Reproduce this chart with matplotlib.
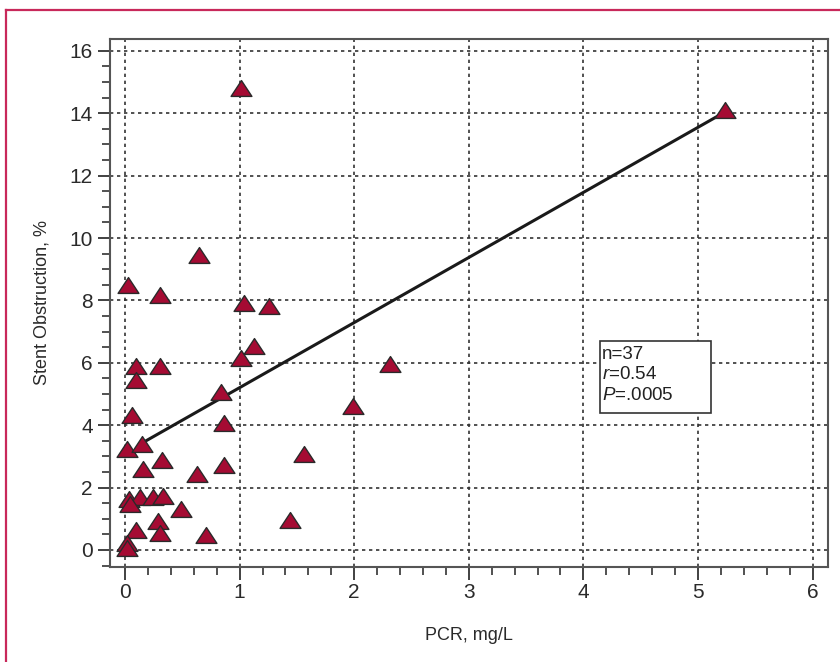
import numpy as np
import matplotlib
matplotlib.use("Agg")
import matplotlib.pyplot as plt
from matplotlib.path import Path
from matplotlib.lines import Line2D
from matplotlib.patches import Rectangle
from matplotlib.ticker import MultipleLocator

plt.rcParams['font.family'] = ['Liberation Sans Narrow', 'Liberation Sans', 'DejaVu Sans']
plt.rcParams['mathtext.fontset'] = 'custom'
plt.rcParams['mathtext.it'] = 'Liberation Sans:italic'
plt.rcParams['mathtext.rm'] = 'Liberation Sans'

# PCR (mg/L) and stent obstruction (%)
pcr = [1.01, 5.24, 0.65, 0.03, 0.305, 1.04, 1.26, 1.13, 1.01, 0.10,
       0.305, 0.10, 0.835, 2.31, 1.99, 0.064, 0.86, 0.014, 0.145, 1.56,
       0.326, 0.16, 0.86, 0.63, 0.038, 0.13, 0.24, 0.335, 0.044, 0.49,
       1.44, 0.29, 0.10, 0.305, 0.71, 0.015, 0.015]
obstruction = [14.8, 14.1, 9.47, 8.5, 8.18, 7.91, 7.83, 6.55, 6.15, 5.9,
               5.9, 5.45, 5.08, 5.95, 4.6, 4.33, 4.08, 3.23, 3.4, 3.08,
               2.87, 2.59, 2.73, 2.43, 1.65, 1.69, 1.71, 1.73, 1.49, 1.3,
               0.97, 0.93, 0.64, 0.56, 0.48, 0.21, 0.06]

# regression line end points as drawn
fit_x = [0.145, 5.24]
fit_y = [3.42, 14.05]

stats_lines = ['n=37', r'$\mathit{r}$=0.54', r'$\mathit{P}$=.0005']

# flattened triangle marker
tri = Path([(-1, -0.76), (1, -0.76), (0, 0.76), (-1, -0.76)],
           [Path.MOVETO, Path.LINETO, Path.LINETO, Path.CLOSEPOLY])

fig = plt.figure(figsize=(8.4, 6.62), dpi=100)
ax = fig.add_axes([0.1304, 0.144, 0.8556, 0.7975])

ax.plot(fit_x, fit_y, color='#1a1a1a', lw=2.2, zorder=3)
ax.scatter(pcr, obstruction, marker=tri, s=15**2, facecolor='#A50B33',
           edgecolor='#2a2a2a', linewidth=1.0, zorder=4)

ax.set_xlim(-0.135, 6.137)
ax.set_ylim(-0.535, 16.39)
ax.set_xticks(range(0, 7))
ax.set_yticks(range(0, 17, 2))
ax.xaxis.set_minor_locator(MultipleLocator(0.2))
ax.yaxis.set_minor_locator(MultipleLocator(0.5))

ax.grid(True, which='major', color='#333333', linestyle=(0, (2, 2.2)), lw=1.2)
ax.set_axisbelow(True)

for s in ax.spines.values():
    s.set_color('#555555')
    s.set_linewidth(1.5)

ax.tick_params(which='major', direction='out', length=9, width=1.3,
               color='#333333', labelsize=15, labelcolor='#2a2a2a', pad=3)
ax.tick_params(which='minor', direction='out', length=6, width=1.2,
               color='#333333')

ax.set_xlabel('PCR, mg/L', fontsize=13, color='#2a2a2a', labelpad=18)
ax.set_ylabel('Stent Obstruction, %', fontsize=13, color='#2a2a2a', labelpad=14)

# statistics box
ax.add_patch(Rectangle((0.6825, 0.2904), 0.1547, 0.1375, transform=ax.transAxes,
                       facecolor='white', edgecolor='#333333', lw=1.2, zorder=5))
for i, line in enumerate(stats_lines):
    ax.text(0.6855, 0.4026 - i * 0.0395, line, transform=ax.transAxes,
            fontsize=13.5, color='#222222', va='center', ha='left', zorder=6)

# crimson frame around the figure
border = '#C8285A'
fig.add_artist(Line2D([5.7 / 840, 5.7 / 840], [0, 1 - 9.7 / 662],
                      transform=fig.transFigure, color=border, lw=1.6))
fig.add_artist(Line2D([5.7 / 840, 1], [1 - 9.7 / 662, 1 - 9.7 / 662],
                      transform=fig.transFigure, color=border, lw=1.6))

fig.savefig('out.png', dpi=100)
